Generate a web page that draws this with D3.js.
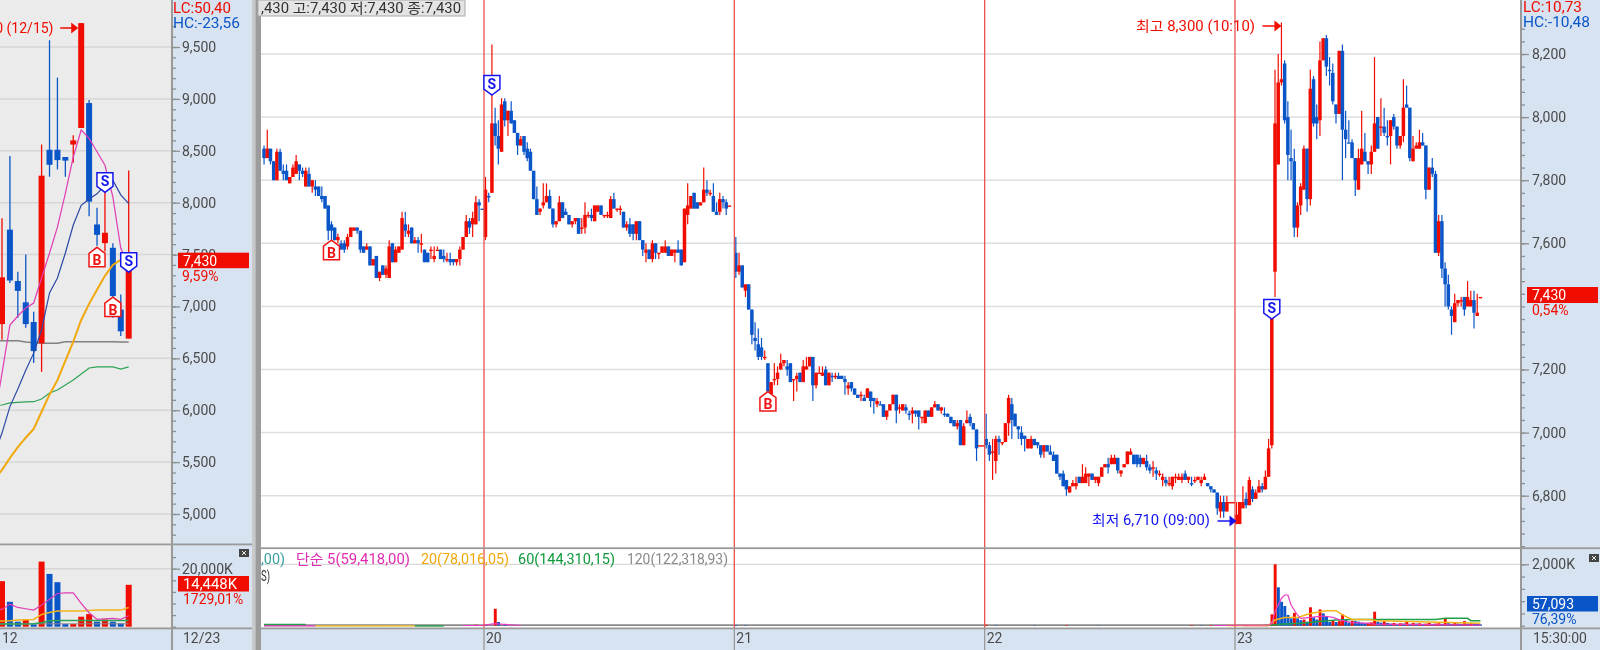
<!DOCTYPE html>
<html><head><meta charset="utf-8">
<script src="https://cdn.jsdelivr.net/npm/d3@7"></script>
<style>html,body{margin:0;padding:0;background:#fff;overflow:hidden}svg{display:block;filter:blur(0.35px)}text{font-family:Roboto,"Noto Sans CJK KR",sans-serif;font-size:14px}</style>
</head><body><svg id="c" width="1600" height="650"></svg>
<script>
// ---- daily panel (open, high, low, close)
const dailyBars=[[6830,7850,6680,7280],[7740,8450,7225,7250],[7245,7335,6890,7150],[7040,7500,6795,6830],[6850,6950,6455,6570],[6645,8560,6370,8260],[8510,9565,8250,8365],[8510,9205,8320,8410],[8440,8440,8250,8405],[8560,8650,8385,8600],[8720,9730,8720,9730],[8960,8990,7870,8010],[7790,7950,7585,7690],[7610,8230,7530,7710],[7565,7610,6890,7100],[6970,7115,6715,6760],[6690,8310,6690,7430]];
const dailyVolume=[15700,8590,1720,2290,800,22450,18200,15350,900,920,3440,4350,1720,2520,1720,1150,14448];
const dailyMA5=[5900,6358,6820,6908,6985,7033,7274,7515,7765,8090,8440,8700,8620,8490,8360,8055,7560,7400];
const dailyMA10=[5570,5780,6035,6205,6385,6550,6775,7130,7275,7515,7785,7975,8035,8085,8170,8215,8075,7990];
const dailyMA20=[5330,5425,5540,5645,5735,5820,5985,6150,6290,6475,6660,6870,7025,7160,7295,7400,7450,7500];
const dailyMA60=[6041,6050,6070,6075,6080,6082,6108,6166,6195,6243,6291,6349,6407,6417,6417,6417,6397,6417];
const dailyMA120=[6670,6670,6670,6670,6657,6650,6645,6645,6645,6660,6660,6660,6660,6660,6660,6660,6657,6657];
const dailyVolMA5=[5950,5950,7790,6640,6180,5725,7440,9500,11450,11680,11680,8015,4810,2520,2750,2860,2520,3780];
const dailyVolMA20=[1950,1950,2060,2290,2400,2520,4240,4925,5380,5380,5380,5380,5610,5725,5725,5725,5725,6640];
const dailyVolMA60=[916,916,916,916,916,1030,1374,2060,2175,2175,2175,2175,2175,2175,2175,2175,2175,2175];
const dailyVolMA120=[1000,1000,1000,1000,1000,1000,1000,1000,1000,1000,1000,1000,1000,1000,1000,1000,1000,1000];
// ---- 5-minute bars per day (open, high, low, close)
const day19=[[7900,7910,7850,7870],[7870,7960,7870,7900],[7900,7900,7850,7860],[7860,7860,7800,7800],[7800,7900,7800,7890],[7890,7900,7830,7830],[7830,7850,7800,7820],[7830,7850,7800,7800],[7790,7810,7790,7810],[7810,7850,7810,7840],[7820,7880,7820,7860],[7850,7850,7800,7830],[7830,7840,7810,7820],[7780,7840,7780,7830],[7820,7840,7780,7780],[7780,7800,7760,7800],[7780,7800,7750,7770],[7780,7780,7750,7750],[7750,7780,7730,7740],[7750,7750,7710,7710],[7720,7720,7610,7640],[7660,7670,7600,7640],[7650,7650,7610,7610],[7610,7630,7600,7620],[7600,7610,7580,7580],[7600,7610,7570,7580],[7590,7630,7580,7620],[7620,7650,7620,7650],[7640,7650,7640,7650],[7650,7650,7630,7640],[7640,7640,7570,7580],[7590,7590,7570,7570],[7580,7600,7580,7590],[7590,7590,7530,7530],[7530,7550,7530,7550],[7560,7560,7490,7490],[7490,7510,7480,7510],[7530,7530,7500,7500],[7500,7530,7490,7520],[7490,7610,7490,7590],[7600,7600,7540,7540],[7540,7590,7540,7580],[7570,7590,7570,7590],[7580,7700,7580,7680],[7660,7700,7620,7640],[7630,7660,7620,7640],[7650,7650,7600,7600],[7600,7620,7600,7610],[7610,7620,7570,7600],[7600,7630,7570,7600],[7580,7580,7540,7540],[7570,7570,7540,7540],[7580,7590,7550,7580],[7550,7590,7540,7560],[7580,7590,7580,7580],[7580,7580,7550,7550],[7560,7580,7540,7550],[7550,7570,7540,7550],[7550,7570,7530,7540],[7550,7550,7530,7540],[7540,7550,7530,7550],[7550,7590,7530,7580],[7580,7620,7580,7620],[7620,7690,7620,7670],[7670,7680,7630,7650],[7660,7700,7620,7680],[7660,7750,7660,7730],[7730,7740,7670,7720],[7710,7710,7710,7710]];
const day20=[[7620,7810,7610,7770],[7750,7760,7730,7750],[7760,8230,7760,7980],[7980,8030,7910,7940],[7940,7990,7850,7900],[7890,8060,7890,8040],[8050,8060,7970,7990],[7990,8020,7940,8020],[8020,8050,7980,7980],[7990,7990,7950,7950],[7950,7950,7880,7910],[7910,7940,7910,7930],[7940,7940,7880,7890],[7900,7920,7860,7870],[7890,7900,7830,7830],[7830,7830,7740,7740],[7740,7780,7690,7690],[7700,7710,7690,7710],[7720,7790,7710,7730],[7730,7790,7730,7750],[7750,7770,7710,7710],[7710,7710,7650,7660],[7660,7670,7650,7670],[7670,7750,7670,7730],[7730,7730,7680,7680],[7700,7710,7690,7690],[7690,7690,7660,7660],[7660,7670,7650,7670],[7670,7680,7660,7680],[7680,7680,7630,7630],[7650,7680,7630,7650],[7650,7730,7630,7690],[7690,7700,7680,7690],[7690,7710,7670,7680],[7670,7720,7670,7720],[7700,7720,7700,7720],[7720,7720,7690,7690],[7690,7690,7680,7690],[7690,7700,7680,7690],[7680,7750,7680,7740],[7740,7760,7710,7710],[7710,7710,7700,7710],[7710,7720,7690,7710],[7700,7700,7650,7650],[7650,7670,7640,7660],[7660,7680,7620,7630],[7660,7660,7610,7630],[7630,7670,7610,7670],[7670,7670,7610,7610],[7610,7610,7560,7580],[7570,7600,7540,7580],[7580,7580,7550,7550],[7550,7610,7540,7600],[7600,7600,7550,7570],[7570,7570,7550,7570],[7570,7590,7570,7590],[7570,7610,7570,7590],[7590,7590,7560,7560],[7560,7580,7560,7580],[7570,7580,7540,7580],[7580,7610,7570,7570],[7580,7580,7530,7530],[7540,7710,7540,7710],[7690,7790,7660,7720],[7710,7750,7710,7750],[7760,7760,7710,7710],[7730,7730,7710,7710],[7720,7730,7720,7730],[7730,7840,7730,7770],[7770,7800,7750,7760],[7760,7770,7750,7760],[7750,7790,7700,7700],[7700,7730,7690,7690],[7700,7760,7690,7740],[7740,7750,7710,7730],[7730,7740,7690,7710],[7720,7720,7720,7720]];
const day21=[[7570,7620,7490,7510],[7510,7570,7500,7530],[7530,7530,7460,7460],[7450,7470,7430,7470],[7470,7470,7390,7390],[7390,7390,7280,7310],[7300,7350,7260,7290],[7280,7330,7230,7240],[7270,7300,7230,7240],[7240,7260,7230,7240],[7220,7220,7130,7130],[7120,7160,7110,7160],[7170,7220,7150,7170],[7170,7210,7150,7190],[7200,7250,7200,7220],[7220,7230,7210,7230],[7210,7230,7180,7200],[7220,7220,7160,7160],[7170,7170,7100,7170],[7170,7190,7130,7180],[7190,7190,7160,7160],[7160,7230,7160,7210],[7200,7240,7200,7210],[7210,7240,7210,7240],[7240,7240,7100,7150],[7150,7190,7140,7190],[7190,7210,7190,7190],[7180,7210,7180,7190],[7200,7210,7150,7150],[7150,7190,7150,7190],[7180,7190,7160,7180],[7180,7190,7170,7180],[7180,7190,7170,7170],[7180,7180,7170,7170],[7170,7180,7120,7160],[7140,7160,7120,7150],[7160,7160,7130,7140],[7140,7140,7120,7120],[7120,7120,7110,7110],[7120,7130,7100,7120],[7110,7120,7100,7100],[7110,7140,7110,7140],[7130,7130,7080,7100],[7110,7110,7060,7100],[7090,7110,7080,7100],[7090,7100,7090,7090],[7090,7090,7050,7050],[7050,7070,7040,7070],[7070,7090,7070,7090],[7090,7120,7090,7120],[7120,7120,7030,7070],[7080,7090,7060,7080],[7070,7090,7070,7090],[7080,7090,7060,7070],[7060,7070,7040,7060],[7060,7080,7030,7070],[7070,7070,7050,7060],[7070,7070,7010,7050],[7050,7050,7030,7050],[7030,7070,7030,7070],[7070,7070,7050,7050],[7050,7080,7050,7080],[7080,7100,7080,7090],[7090,7090,7070,7070],[7070,7080,7060,7080],[7060,7080,7050,7060],[7060,7060,7050,7050],[7050,7050,7030,7030],[7040,7040,7020,7020],[7020,7040,7010,7030],[7040,7040,6960,6960],[6960,7030,6960,7020],[7030,7070,7030,7040],[7050,7060,7020,7030],[7030,7030,7010,7010],[7010,7010,6910,6950],[6960,6960,6960,6960],[6960,6960,6960,6960]];
const day22=[[6980,7060,6950,6960],[6960,6970,6910,6930],[6940,6980,6850,6940],[6910,6990,6870,6980],[6980,6990,6930,6970],[6970,6970,6960,6970],[6970,7030,6970,7030],[7030,7120,6990,7110],[7090,7110,6980,7040],[7060,7060,7020,7020],[7020,7020,6980,7010],[7000,7020,6960,6980],[6990,6990,6940,6980],[6950,6980,6950,6980],[6950,6990,6950,6980],[6980,6980,6960,6960],[6970,6970,6950,6960],[6960,6960,6920,6930],[6940,6960,6920,6960],[6960,6960,6940,6940],[6940,6960,6930,6930],[6930,6940,6920,6910],[6930,6930,6870,6870],[6870,6870,6850,6860],[6870,6880,6830,6830],[6850,6850,6800,6820],[6810,6830,6810,6830],[6830,6850,6830,6840],[6830,6860,6820,6840],[6860,6860,6840,6840],[6840,6900,6840,6860],[6840,6890,6840,6870],[6860,6870,6830,6870],[6870,6870,6850,6850],[6850,6860,6840,6860],[6840,6860,6830,6860],[6860,6890,6860,6890],[6890,6900,6890,6900],[6900,6920,6870,6890],[6900,6930,6900,6920],[6900,6930,6900,6920],[6920,6920,6870,6880],[6870,6880,6860,6880],[6890,6900,6890,6900],[6900,6940,6900,6940],[6930,6950,6930,6940],[6930,6930,6900,6900],[6930,6930,6890,6900],[6920,6930,6890,6900],[6900,6920,6900,6920],[6910,6930,6880,6890],[6890,6900,6870,6880],[6890,6910,6860,6890],[6880,6890,6850,6870],[6870,6880,6860,6870],[6850,6870,6830,6860],[6850,6860,6830,6840],[6840,6860,6830,6840],[6830,6860,6820,6860],[6860,6870,6840,6860],[6850,6870,6850,6860],[6850,6870,6840,6860],[6870,6880,6850,6850],[6850,6860,6840,6860],[6840,6860,6830,6840],[6850,6860,6840,6850],[6850,6860,6850,6860],[6840,6860,6830,6850],[6850,6870,6850,6860],[6840,6840,6830,6830],[6830,6830,6810,6820],[6820,6820,6810,6810],[6810,6810,6740,6760],[6750,6800,6730,6780],[6780,6800,6730,6750],[6750,6800,6750,6780],[6780,6780,6780,6780],[6780,6780,6780,6780]];
const day23=[[6710,6780,6710,6740],[6710,6780,6710,6780],[6760,6830,6760,6780],[6790,6810,6760,6770],[6770,6860,6770,6850],[6820,6830,6780,6790],[6790,6820,6790,6810],[6810,6850,6810,6830],[6830,6840,6810,6820],[6820,6880,6820,6860],[6860,6980,6860,6950],[6960,7410,6950,7370],[7510,8150,7430,7980],[7850,8200,7850,8110],[8110,8300,8100,8120],[8170,8180,7980,7990],[8000,8050,7800,7880],[7870,7960,7800,7860],[7860,7900,7620,7650],[7650,7730,7620,7720],[7720,7790,7690,7780],[7770,7910,7770,7900],[7900,7900,7700,7740],[7740,8150,7720,8090],[8120,8130,7970,7980],[8000,8040,7930,7980],[7990,8240,7940,8180],[8180,8250,8180,8250],[8250,8260,8130,8160],[8150,8190,8100,8150],[8140,8170,8040,8050],[8040,8040,7980,8010],[8010,8210,8010,8210],[8210,8230,7800,7960],[7960,8020,7870,7930],[7920,7990,7920,7920],[7920,7930,7870,7870],[7870,7870,7750,7800],[7770,7900,7770,7870],[7850,8020,7850,7900],[7890,7950,7860,7860],[7860,7860,7820,7850],[7850,7910,7820,7890],[7890,8190,7890,7980],[8000,8000,7900,7900],[7970,8060,7940,7970],[7970,8030,7940,7950],[7940,7990,7910,7940],[7940,7990,7850,7990],[8000,8010,7960,7970],[7970,7970,7900,7910],[7910,7940,7900,7940],[7940,8120,7920,8030],[8040,8100,8030,8030],[8030,8030,7860,7870],[7860,7940,7860,7900],[7900,7920,7900,7910],[7900,7960,7900,7920],[7920,7950,7910,7910],[7910,7910,7740,7770],[7770,7840,7770,7840],[7840,7870,7810,7820],[7820,7830,7570,7570],[7570,7690,7560,7670],[7670,7690,7490,7520],[7520,7540,7400,7470],[7470,7500,7390,7400],[7390,7400,7310,7370],[7350,7440,7350,7410],[7410,7420,7400,7420],[7420,7430,7400,7420],[7430,7430,7370,7390],[7400,7480,7400,7430],[7400,7450,7400,7420],[7420,7450,7330,7380],[7370,7440,7370,7380],[7430,7430,7430,7430]];
const dayStarts=[0,69,147,225,303];
const dayLabels=["20","21","22","23"];
// ---- intraday volume in thousands
const volume23=[10,8,6,8,6,8,6,6,8,30,40,370,2000,1250,780,640,350,240,420,240,180,200,130,600,270,200,530,400,315,120,160,120,150,370,200,100,160,150,130,100,90,100,110,456,130,100,150,90,70,90,60,80,70,150,60,90,70,80,60,70,90,60,70,80,60,240,80,60,90,70,60,150,70,80,70,60,40];
const volumeEarlyIdx=[63,66,69,72,73,75,147,150,225,228,240,250,260,289,292,295];
const volumeEarly=[16,32,20,550,120,30,22,14,30,14,10,18,8,20,10,20];
// thin volume averages, [bar index, thousands]
const volMA5=[[296,6],[313,22],[314,76],[315,456],[317,890],[318,1000],[319,1000],[320,675],[322,350],[323,240],[326,270],[330,315],[333,270],[336,163],[339,98],[344,76],[346,54],[379,22]];
const volMA5Early=[[62,6],[68,10],[72,70],[74,50],[80,6]];
const volMA20=[[300,6],[313,10],[315,184],[318,270],[322,270],[326,400],[331,490],[334,490],[336,350],[339,206],[344,206],[347,163],[379,76]];
const volMA60=[[312,10],[318,54],[323,76],[334,184],[339,206],[365,206],[368,240],[375,240],[376,163],[379,163]];
const volMA120=[[0,14],[379,22]];
const earlyPink=[[0,-8],[16,-8]], earlyYellow=[[16,-8],[47,-8]], earlyGreenA=[[0,40],[13,40]], earlyGreenB=[[47,-8],[56,-8]], openPink=[[305,4],[313,4]];
const signalIdx=[21,71,157,314], signalPrice=[7610,8070,7130,7360], signalKind=["B","S","B","S"];
const dailySignalIdx=[12,13,14,16], dailySignalPrice=[7570,8100,7090,7330], dailySignalKind=["B","S","B","S"];
const mainTicks=[8200,8000,7800,7600,7200,7000,6800], mainGrid=[8200,8000,7800,7600,7400,7200,7000,6800];
const dailyTicks=[9500,9000,8500,8000,7500,7000,6500,6000,5500,5000];

const RED="#f00d00",BLUE="#0a55c8",AXISBG="#d7e3f0",GRID="#dedede",LINE="#9a9a9a",TXT="#4a4a4a";
const F=d3.format(",");
const svg=d3.select("#c");
const defs=svg.append("defs");
defs.append("clipPath").attr("id","lp").append("rect").attr("x",0).attr("y",0).attr("width",172).attr("height",628);
defs.append("clipPath").attr("id","rp").append("rect").attr("x",261).attr("y",0).attr("width",1260).attr("height",628);
const rect=(g,x,y,w,h,f)=>g.append("rect").attr("x",x).attr("y",y).attr("width",w).attr("height",h).attr("fill",f);
const txt=(g,x,y,s,c,w)=>{const t=g.append("text").attr("x",x).attr("y",y).attr("dy","0.36em").attr("fill",c).text(s);
  if(w)t.attr("textLength",w).attr("lengthAdjust","spacingAndGlyphs");return t;};

// backgrounds
rect(svg,0,0,1600,650,AXISBG);
rect(svg,0,0,172,628,"#ebebeb");
rect(svg,252,0,3.5,650,"#c9c9c9");
rect(svg,255.5,0,5.5,650,"#9c9c9c");
rect(svg,261,0,1260,628,"#fff");

// scales
const xL=d3.scaleLinear().domain([0,16]).range([2,128.7]);
const yL=d3.scaleLinear().domain([9500,5000]).range([47,514]);
const vL=d3.scaleLinear().domain([0,20000]).range([626.7,568.7]);
const xR=d3.scaleLinear().domain([69,303]).range([484,1235]);
const yR=d3.scaleLinear().domain([8200,6800]).range([54,495.7]);
const vR=d3.scaleLinear().domain([0,2000]).range([625.7,564.3]);

// grids
const gridL=svg.append("g");
gridL.selectAll("line").data(dailyTicks).join("line").attr("x1",0).attr("x2",172).attr("y1",yL).attr("y2",yL).attr("stroke","#d6d6d6").attr("stroke-width",1.5);
gridL.append("line").attr("x1",0).attr("x2",172).attr("y1",vL(20000)).attr("y2",vL(20000)).attr("stroke","#d6d6d6").attr("stroke-width",1.5);
const gridR=svg.append("g");
gridR.selectAll("line").data(mainGrid).join("line").attr("x1",261).attr("x2",1521).attr("y1",yR).attr("y2",yR).attr("stroke",GRID).attr("stroke-width",1.5);
gridR.append("line").attr("x1",261).attr("x2",1521).attr("y1",vR(2000)).attr("y2",vR(2000)).attr("stroke","#d0d0d0").attr("stroke-width",1);

// candles
function candles(g,rows,xf,yf,bw,wick){
  const up=(d,i)=>d[3]>d[0]||(d[3]===d[0]&&(i===0||d[3]>=rows[i-1][3]));
  g.selectAll("line.w").data(rows).join("line").attr("class","w")
    .attr("x1",(d,i)=>xf(i)).attr("x2",(d,i)=>xf(i)).attr("y1",d=>yf(d[1])).attr("y2",d=>yf(d[2]))
    .attr("stroke",(d,i)=>up(d,i)?RED:BLUE).attr("stroke-width",wick);
  g.selectAll("rect.b").data(rows).join("rect").attr("class","b")
    .attr("x",(d,i)=>xf(i)-bw/2).attr("width",bw)
    .attr("y",d=>Math.min(yf(d[0]),yf(d[3]))).attr("height",d=>Math.max(1.4,Math.abs(yf(d[0])-yf(d[3]))))
    .attr("fill",(d,i)=>up(d,i)?RED:BLUE);
}
const maLine=(g,vals,xf,yf,c,w)=>g.append("path").attr("d",d3.line().x((d,i)=>xf(i-1)).y(d=>yf(d))(vals)).attr("fill","none").attr("stroke",c).attr("stroke-width",w);
const pairLine=(g,pts,yf,c,w)=>g.append("path").attr("d",d3.line().x(d=>xR(d[0])+1.5).y(d=>yf(d[1]))(pts)).attr("fill","none").attr("stroke",c).attr("stroke-width",w);

// ----- left panel
const L=svg.append("g").attr("clip-path","url(#lp)");
maLine(L,dailyMA120,xL,yL,"#808080",1.4);
candles(L.append("g"),dailyBars,xL,yL,6,1.3);
maLine(L,dailyMA60,xL,yL,"#2ea356",1.2);
maLine(L,dailyMA20,xL,yL,"#f0a80a",2);
maLine(L,dailyMA10,xL,yL,"#2b49a6",1.2);
maLine(L,dailyMA5,xL,yL,"#e03cb4",1.2);
L.selectAll("rect.v").data(dailyVolume).join("rect").attr("class","v")
  .attr("x",(d,i)=>xL(i)-3).attr("width",6).attr("y",d=>vL(d)).attr("height",d=>vL(0)-vL(d))
  .attr("fill",(d,i)=>(i===0||d>dailyVolume[i-1])?RED:BLUE);
maLine(L,dailyVolMA120,xL,vL,"#8a8a8a",1);
maLine(L,dailyVolMA60,xL,vL,"#2ea356",1.5);
maLine(L,dailyVolMA20,xL,vL,"#f4b41a",1.5);
maLine(L,dailyVolMA5,xL,vL,"#e03cb4",1.2);

// ----- right panel
const R=svg.append("g").attr("clip-path","url(#rp)");
const days=[day19,day20,day21,day22,day23];
days.forEach((rows,k)=>{candles(R.append("g"),rows,i=>xR(dayStarts[k]+i)+1.5,yR,3.5,1.2);});
const allVol=[];
volumeEarly.forEach((v,i)=>allVol.push([volumeEarlyIdx[i],v]));
volume23.forEach((v,i)=>allVol.push([dayStarts[4]+i,v]));
pairLine(R,volMA120,vR,"#8a8a8a",1.8);
R.selectAll("rect.v").data(allVol).join("rect").attr("class","v")
  .attr("x",d=>xR(d[0])+0.2).attr("width",2.9).attr("y",d=>vR(d[1])).attr("height",d=>vR(0)-vR(d[1]))
  .attr("fill",(d,i)=>(i===0||d[1]>allVol[i-1][1])?RED:BLUE);
pairLine(R,earlyGreenA,vR,"#1fa048",1.6);
pairLine(R,earlyPink,vR,"#e93cc0",1.2);
pairLine(R,earlyYellow,vR,"#f4c01a",1.2);
pairLine(R,earlyGreenB,vR,"#1fa048",1.4);
pairLine(R,openPink,vR,"#e93cc0",1.4);
pairLine(R,volMA60,vR,"#1fa048",1.5);
pairLine(R,volMA20,vR,"#f4b41a",1.5);
pairLine(R,volMA5Early,vR,"#e93cc0",1.2);
pairLine(R,volMA5,vR,"#e93cc0",1.2);

// day separators
dayStarts.slice(1).forEach((s,i)=>{
  svg.append("line").attr("x1",xR(s)).attr("x2",xR(s)).attr("y1",0).attr("y2",628).attr("stroke","#e8524e").attr("stroke-width",1.3);
  svg.append("line").attr("x1",xR(s)).attr("x2",xR(s)).attr("y1",628).attr("y2",650).attr("stroke",LINE).attr("stroke-width",1.3);
  txt(svg,xR(s)+2,638,dayLabels[i],TXT);
});

// signal markers
function marker(x,y,kind){
  const S=kind==="S",c=S?"#1414f0":"#f01414",h=S?-1:1;
  const p=d3.path();
  p.moveTo(x,y);p.lineTo(x+8,y+h*6);p.lineTo(x+8,y+h*19.5);p.lineTo(x-8,y+h*19.5);p.lineTo(x-8,y+h*6);p.closePath();
  svg.append("path").attr("d",p).attr("fill","#fff").attr("stroke",c).attr("stroke-width",1.5);
  svg.append("text").attr("x",x).attr("y",y+h*(S?11.5:12.5)).attr("dy","0.36em").attr("text-anchor","middle").attr("fill",c).attr("font-weight",700).style("font-size","14px").text(kind);
}
signalIdx.forEach((b,i)=>marker(xR(b)+1.5,yR(signalPrice[i]),signalKind[i]));
dailySignalIdx.forEach((b,i)=>marker(xL(b),yL(dailySignalPrice[i]),dailySignalKind[i]));

// annotations with arrows
function arrow(x,y,len,c){
  svg.append("line").attr("x1",x-len).attr("x2",x-5).attr("y1",y).attr("y2",y).attr("stroke",c).attr("stroke-width",1.5);
  const p=d3.path();p.moveTo(x,y);p.lineTo(x-7,y-5.5);p.lineTo(x-7,y+5.5);p.closePath();
  svg.append("path").attr("d",p).attr("fill",c);
}
txt(svg,1136,26,"최고 8,300 (10:10)",RED,119);
arrow(xR(317)+1.5,26,19,RED);
txt(svg,1092,520,"최저 6,710 (09:00)","#1414f0",118);
arrow(xR(303)+1.5,521,19,"#1414f0");
const lt=txt(svg,53.5,28,"최고 9,730 (12/15)",RED);lt.attr("text-anchor","end");
arrow(xL(10)-3,28,18,RED);

// top legend box
rect(svg,258,0,207,16,"#e4e4e4").attr("stroke","#aaa").attr("stroke-width",1);
txt(svg,261,8,",430 고:7,430 저:7,430 종:7,430","#333",200);
txt(svg,261,559,",00)","#3a9f9f",24);
txt(svg,296,559,"단순 5(59,418,00)","#e02cb0",114);
txt(svg,421,559,"20(78,016,05)","#f0a80a",88);
txt(svg,518,559,"60(144,310,15)","#0f9a3c",97);
txt(svg,627,559,"120(122,318,93)","#8a8a8a",101);
txt(svg,261,576,"S)","#333",9);

// panel separators
const sep=svg.append("g").attr("fill",LINE);
rect(sep,0,543.5,252,1.8,LINE);rect(sep,261,547.3,1339,1.8,LINE);
rect(sep,0,627.5,252,1.8,LINE);rect(sep,261,627.5,1339,1.8,LINE);
rect(svg,171,0,2,650,LINE);rect(svg,1520,0,2,650,LINE);

// axes
function yAxis(x,scale,vals,minor,fmt,major,pad){
  const M=svg.append("g").attr("transform",`translate(${x},0)`).call(d3.axisRight(scale).tickValues(minor).tickSize(4).tickFormat(""));
  const A=svg.append("g").attr("transform",`translate(${x},0)`).call(d3.axisRight(scale).tickValues(vals).tickSize(major).tickPadding(pad).tickFormat(fmt));
  [M,A].forEach(g=>{g.select(".domain").remove();g.selectAll("line").attr("stroke","#8f8f8f").attr("stroke-width",1.3);
    g.selectAll("text").attr("fill",TXT).style("font-size","14px").style("font-family","Roboto");});
}
yAxis(172,yL,dailyTicks,d3.range(4800,9800,100),F,8,2);
yAxis(172,vL,[20000],d3.range(0,24001,4000),d=>F(d)+"K",8,2);
yAxis(1521,yR,mainTicks,d3.range(6640,8320,40),F,8,3);
yAxis(1521,vR,[2000],d3.range(0,2001,400),d=>F(d)+"K",8,3);

// axis headers and value tags
txt(svg,173,8,"LC:50,40",RED,58);
txt(svg,173,23,"HC:-23,56",BLUE,67);
rect(svg,178,252.7,71,15.5,RED);
txt(svg,183,260.5,"7,430","#fff");
txt(svg,182,276,"9,59%",RED);
rect(svg,178,576,71,15.5,RED);
txt(svg,183,584,"14,448K","#fff",54);
txt(svg,183,598.5,"1729,01%",RED);
txt(svg,1523,7,"LC:10,73",RED,59);
txt(svg,1523,22,"HC:-10,48",BLUE,67);
rect(svg,1527,287,71,16,RED);
txt(svg,1532,295,"7,430","#fff");
txt(svg,1532,310,"0,54%",RED);
rect(svg,1527,596,71,15.5,BLUE);
txt(svg,1532,604,"57,093","#fff");
txt(svg,1532,619,"76,39%",BLUE);
txt(svg,2,638,"12",TXT);
txt(svg,183,638,"12/23",TXT);
txt(svg,1533,638,"15:30:00",TXT);
[[239,549],[1589,554]].forEach(p=>{
  rect(svg,p[0],p[1],10,8,"#444");
  svg.append("path").attr("d",`M${p[0]+3},${p[1]+2}L${p[0]+7},${p[1]+6}M${p[0]+7},${p[1]+2}L${p[0]+3},${p[1]+6}`).attr("stroke","#fff").attr("stroke-width",.9);
});
</script></body></html>
